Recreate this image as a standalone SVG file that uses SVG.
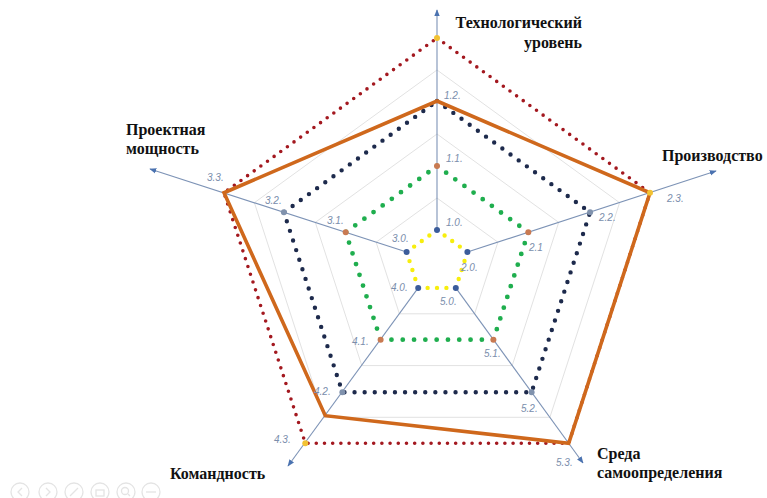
<svg xmlns="http://www.w3.org/2000/svg" width="767" height="498" viewBox="0 0 767 498">
<style>
.grid{fill:none;stroke:#e2e2e2;stroke-width:1}
.axis{stroke:#7d93b6;stroke-width:1.1;fill:none}
.s0{fill:none;stroke:#f7ee0e;stroke-width:4.4;stroke-linecap:round;stroke-dasharray:0 9.4}
.s1{fill:none;stroke:#1fae4e;stroke-width:4.8;stroke-linecap:round;stroke-dasharray:0 11.3}
.s2{fill:none;stroke:#1d2a4c;stroke-width:4.4;stroke-linecap:round;stroke-dasharray:0 10.1}
.s3{fill:none;stroke:#a3181f;stroke-width:3.6;stroke-linecap:round;stroke-dasharray:0 8.2}
.orange{fill:none;stroke:#cf681c;stroke-width:3.6;stroke-linejoin:miter}
.m0{fill:#3b5c9b}.m1{fill:#c97a52}.m2{fill:#8092ad}.m3{fill:#f2c233}
.lbl{font-family:"Liberation Sans",Arial,sans-serif;font-style:italic;font-size:10px;fill:#7a8eac}
.title{font-family:"Liberation Serif","Times New Roman","DejaVu Serif",serif;font-weight:bold;font-size:16px;fill:#111}
.tb{fill:none;stroke:#e4e4e4;stroke-width:1.3}
</style>
<defs>
<marker id="arr" viewBox="0 0 10 10" refX="9" refY="5" markerWidth="7" markerHeight="7" markerUnits="userSpaceOnUse" orient="auto">
<path d="M0,1 L10,5 L0,9 z" fill="#4a72b0"/>
</marker>
</defs>
<rect width="767" height="498" fill="#ffffff"/>
<g id="grid">
<polygon class="grid" points="437,198 497.9,242.2 474.6,313.8 399.4,313.8 376.1,242.2"/>
<polygon class="grid" points="437,134 558.7,222.4 512.2,365.6 361.8,365.6 315.3,222.4"/>
<polygon class="grid" points="437,70 619.6,202.7 549.9,417.3 324.1,417.3 254.4,202.7"/>
</g>
<g id="connectors">
<line class="axis" x1="437" y1="230" x2="437" y2="10" marker-end="url(#arr)"/>
<line class="axis" x1="467.4" y1="252.1" x2="716" y2="171" marker-end="url(#arr)"/>
<line class="axis" x1="406.6" y1="252.1" x2="150" y2="169" marker-end="url(#arr)"/>
<line class="axis" x1="418.2" y1="287.9" x2="288" y2="466" marker-end="url(#arr)"/>
<line class="axis" x1="455.8" y1="287.9" x2="583" y2="463" marker-end="url(#arr)"/>
</g>
<g id="series-level3">
<polygon class="s3" points="437,38 650,192.8 568.7,443.2 305.3,443.2 224,192.8"/>
</g>
<g id="series-level2">
<polygon class="s2" points="437,101 590.1,212.3 531.6,392.2 342.4,392.2 283.9,212.3"/>
</g>
<g id="series-level1">
<polygon class="s1" points="437,166 528.3,232.3 493.4,339.7 380.6,339.7 345.7,232.3"/>
</g>
<g id="series-level0">
<polygon class="s0" points="437,230 467.4,252.1 455.8,287.9 418.2,287.9 406.6,252.1"/>
</g>
<g id="series-orange">
<polygon class="orange" points="437,101 650,192.8 568.7,443.2 325.3,415.7 224,192.8"/>
</g>
<g id="markers">
<circle class="m0" cx="437" cy="230" r="3"/><circle class="m0" cx="467.4" cy="252.1" r="3"/><circle class="m0" cx="455.8" cy="287.9" r="3"/><circle class="m0" cx="418.2" cy="287.9" r="3"/><circle class="m0" cx="406.6" cy="252.1" r="3"/>
<circle class="m1" cx="437" cy="166" r="3"/><circle class="m1" cx="528.3" cy="232.3" r="3"/><circle class="m1" cx="493.4" cy="339.7" r="3"/><circle class="m1" cx="380.6" cy="339.7" r="3"/><circle class="m1" cx="345.7" cy="232.3" r="3"/>
<circle class="m2" cx="590.1" cy="212.3" r="3"/><circle class="m2" cx="531.6" cy="392.2" r="3"/><circle class="m2" cx="342.4" cy="392.2" r="3"/><circle class="m2" cx="283.9" cy="212.3" r="3"/>
<circle class="m3" cx="437" cy="38" r="3"/><circle class="m3" cx="650" cy="192.8" r="3"/><circle class="m3" cx="305.3" cy="443.2" r="3"/>
</g>
<g id="point-labels">
<text class="lbl" x="446" y="226">1.0.</text>
<text class="lbl" x="446" y="162">1.1.</text>
<text class="lbl" x="444" y="99">1.2.</text>
<text class="lbl" x="461" y="271">2.0.</text>
<text class="lbl" x="529" y="251">2.1</text>
<text class="lbl" x="599" y="221">2.2.</text>
<text class="lbl" x="667" y="202">2.3.</text>
<text class="lbl" x="392" y="242">3.0.</text>
<text class="lbl" x="327" y="224">3.1.</text>
<text class="lbl" x="265" y="204">3.2.</text>
<text class="lbl" x="207" y="181">3.3.</text>
<text class="lbl" x="391" y="291">4.0.</text>
<text class="lbl" x="352" y="345">4.1.</text>
<text class="lbl" x="314" y="395">4.2.</text>
<text class="lbl" x="274" y="443">4.3.</text>
<text class="lbl" x="440" y="305">5.0.</text>
<text class="lbl" x="484" y="357">5.1.</text>
<text class="lbl" x="521" y="412">5.2.</text>
<text class="lbl" x="556" y="466">5.3.</text>
</g>
<g id="axis-titles">
<text class="title" x="582" y="28" text-anchor="end">Технологический</text>
<text class="title" x="582" y="48" text-anchor="end">уровень</text>
<text class="title" x="662" y="161">Производство</text>
<text class="title" x="126" y="135">Проектная</text>
<text class="title" x="126" y="154">мощность</text>
<text class="title" x="170" y="479">Командность</text>
<text class="title" x="597" y="459">Среда</text>
<text class="title" x="597" y="478">самоопределения</text>
</g>
<g id="toolbar">
<circle class="tb" cx="20" cy="492" r="9"/><path class="tb" d="M22,488 L18,492 L22,496"/>
<circle class="tb" cx="48" cy="492" r="9"/><path class="tb" d="M46,488 L50,492 L46,496"/>
<circle class="tb" cx="74" cy="492" r="9"/><path class="tb" d="M70,496 L78,488"/>
<circle class="tb" cx="100" cy="492" r="9"/><rect class="tb" x="96" y="490" width="8" height="6"/>
<circle class="tb" cx="126" cy="492" r="9"/><circle class="tb" cx="125" cy="491" r="3.5"/><path class="tb" d="M128,494 L130,496"/>
<circle class="tb" cx="151" cy="492" r="9"/><path class="tb" d="M146,492 L156,492"/>
</g>
</svg>
